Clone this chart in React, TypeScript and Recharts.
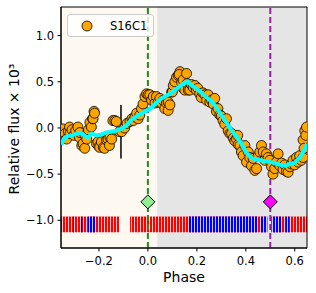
import React from 'react';
import {
  ComposedChart,
  Scatter,
  XAxis,
  YAxis,
  ReferenceArea,
  ReferenceLine,
} from 'recharts';

// observed points (phase, relative flux x 10^3)
const obsPhase = [
  -0.352, -0.347, -0.346, -0.338, -0.332, -0.325, -0.32, -0.318, -0.31, -0.302,
  -0.295, -0.286, -0.28, -0.278, -0.27, -0.265, -0.258, -0.257, -0.25, -0.243,
  -0.237, -0.231, -0.226, -0.224, -0.22, -0.218, -0.21, -0.204, -0.2, -0.197,
  -0.19, -0.182, -0.177, -0.169, -0.163, -0.157, -0.155, -0.148, -0.143, -0.135,
  -0.129, -0.116, -0.107, -0.095, -0.085, -0.073, -0.065, -0.06, -0.053, -0.046,
  -0.04, -0.033, -0.026, -0.02, -0.012, -0.005, 0.001, 0.008, 0.015, 0.022,
  0.029, 0.035, 0.042, 0.049, 0.055, 0.062, 0.069, 0.076, 0.083, 0.083,
  0.09, 0.097, 0.1, 0.104, 0.11, 0.117, 0.124, 0.131, 0.128, 0.138,
  0.144, 0.144, 0.151, 0.158, 0.16, 0.165, 0.171, 0.178, 0.185, 0.192,
  0.198, 0.204, 0.212, 0.218, 0.225, 0.233, 0.24, 0.246, 0.253, 0.26,
  0.267, 0.273, 0.28, 0.286, 0.294, 0.3, 0.307, 0.314, 0.321, 0.328,
  0.335, 0.342, 0.349, 0.355, 0.362, 0.367, 0.369, 0.376, 0.382, 0.389,
  0.396, 0.403, 0.41, 0.416, 0.423, 0.43, 0.437, 0.444, 0.451, 0.457,
  0.464, 0.471, 0.477, 0.484, 0.491, 0.498, 0.505, 0.511, 0.518, 0.525,
  0.532, 0.539, 0.546, 0.552, 0.559, 0.566, 0.573, 0.58, 0.586, 0.593,
  0.6, 0.607, 0.614, 0.62, 0.627, 0.634, 0.634, 0.638, 0.641, 0.645,
  0.648,
];
const obsFlux = [
  -0.03, -0.01, -0.1, -0.06, -0.12, -0.04, 0.01, -0.06, -0.02, -0.08,
  -0.03, 0.01, -0.1, -0.05, -0.19, -0.17, -0.22, -0.08, -0.12, -0.02,
  0.06, 0.01, 0.1, 0.1, 0.18, 0.16, -0.17, -0.15, -0.2, -0.21,
  -0.15, -0.21, -0.22, -0.13, -0.12, -0.19, -0.1, -0.12, 0.08, 0.08,
  0.07, -0.04, -0.04, 0.0, 0.05, 0.07, 0.1, 0.08, 0.12, 0.16,
  0.1, 0.14, 0.21, 0.26, 0.34, 0.37, 0.36, 0.36, 0.3, 0.34,
  0.27, 0.34, 0.28, 0.32, 0.27, 0.3, 0.21, 0.27, 0.19, 0.28,
  0.25, 0.39, 0.39, 0.46, 0.5, 0.55, 0.57, 0.61, 0.58, 0.49,
  0.43, 0.52, 0.41, 0.59, 0.48, 0.41, 0.41, 0.47, 0.44, 0.46,
  0.41, 0.43, 0.37, 0.33, 0.38, 0.36, 0.3, 0.36, 0.28, 0.3,
  0.26, 0.32, 0.18, 0.21, 0.14, 0.13, 0.08, 0.04, 0.1, -0.03,
  -0.06, -0.06, -0.11, -0.14, -0.12, -0.08, -0.18, -0.19, -0.26, -0.3,
  -0.19, -0.37, -0.26, -0.32, -0.41, -0.33, -0.46, -0.44, -0.3, -0.26,
  -0.19, -0.26, -0.35, -0.28, -0.32, -0.35, -0.42, -0.5, -0.44, -0.37,
  -0.28, -0.41, -0.38, -0.45, -0.4, -0.47, -0.48, -0.42, -0.39, -0.35,
  -0.4, -0.32, -0.37, -0.3, -0.35, -0.32, -0.13, -0.22, -0.03, -0.08,
  0.01,
];

// smoothed model curve
const fitPhase = [
  -0.355, -0.345, -0.33, -0.31, -0.29, -0.275, -0.26, -0.245, -0.23, -0.21,
  -0.19, -0.17, -0.15, -0.13, -0.11, -0.09, -0.07, -0.05, -0.03, -0.01,
  0.01, 0.03, 0.05, 0.07, 0.09, 0.11, 0.13, 0.15, 0.165, 0.18,
  0.2, 0.22, 0.24, 0.26, 0.28, 0.3, 0.32, 0.34, 0.36, 0.38,
  0.4, 0.42, 0.44, 0.46, 0.48, 0.5, 0.52, 0.54, 0.56, 0.58,
  0.6, 0.62, 0.635, 0.65,
];
const fitFlux = [
  -0.18, -0.13, -0.09, -0.08, -0.06, -0.05, -0.08, -0.11, -0.06, -0.08,
  -0.07, -0.05, -0.04, -0.03, -0.01, 0.02, 0.08, 0.12, 0.15, 0.18,
  0.21, 0.26, 0.31, 0.34, 0.37, 0.41, 0.45, 0.49, 0.5, 0.46,
  0.42, 0.38, 0.33, 0.29, 0.22, 0.14, 0.06, -0.02, -0.09, -0.16,
  -0.26, -0.32, -0.34, -0.35, -0.36, -0.37, -0.38, -0.4, -0.41, -0.39,
  -0.38, -0.32, -0.26, -0.17,
];

// sampling bands along the bottom
const redBands: [number, number][] = [
  [-0.355, -0.118],
  [-0.073, 0.489],
  [0.505, 0.65],
];
const blueBands: [number, number][] = [
  [-0.306, -0.3],
  [-0.274, -0.268],
  [-0.245, -0.216],
  [0.167, 0.449],
  [0.461, 0.486],
  [0.505, 0.546],
  [0.562, 0.578],
];

const markerPhase = [0.0, 0.5];
const markerFlux = [-0.8, -0.8];
const markerColor = ['#90ee90', '#ff00ff'];

const xTicks = [-0.2, 0.0, 0.2, 0.4, 0.6];
const yTicks = [-1.0, -0.5, 0.0, 0.5, 1.0];

const points = obsPhase.map((p, i) => ({ phase: p, flux: obsFlux[i] }));
const fit = fitPhase.map((p, i) => ({ phase: p, flux: fitFlux[i] }));
const markers = markerPhase.map((p, i) => ({ phase: p, flux: markerFlux[i], color: markerColor[i] }));

const FONT = 'DejaVu Sans, sans-serif';
const fmt = (v: number) => v.toFixed(1).replace('-', '\u2212');

const Dot = (props: any) => (
  <circle cx={props.cx} cy={props.cy} r={5} fill="#ffa500" stroke="#000" strokeWidth={0.8} />
);

const NoDot = () => <g />;

const Diamond = (props: any) => {
  const { cx, cy, payload } = props;
  const s = 7;
  return (
    <polygon
      points={`${cx},${cy - s} ${cx + s},${cy} ${cx},${cy + s} ${cx - s},${cy}`}
      fill={payload.color}
      stroke="#000"
      strokeWidth={1}
    />
  );
};

export default function App() {
  return (
    <div style={{ position: 'absolute', left: 0, top: 0, width: 316, height: 293, background: '#fff' }}>
      <ComposedChart width={316} height={293} margin={{ top: 7, right: 9, bottom: 0, left: 0 }}>
        <defs>
          <pattern id="redStripes" width="3" height="20" patternUnits="userSpaceOnUse">
            <rect width="3" height="20" fill="#ffc8c8" />
            <rect width="2" height="20" fill="#ff0000" />
          </pattern>
          <pattern id="blueStripes" width="3" height="20" patternUnits="userSpaceOnUse">
            <rect width="3" height="20" fill="#c8c8ff" />
            <rect width="2" height="20" fill="#0000ff" />
          </pattern>
        </defs>
        <XAxis
          dataKey="phase"
          type="number"
          domain={[-0.355, 0.65]}
          ticks={xTicks}
          tickFormatter={fmt}
          allowDataOverflow
          height={45}
          tickSize={3.5}
          tickMargin={5}
          stroke="#000"
          tick={{ fill: '#000', fontSize: 11.5, fontFamily: FONT }}
        />
        <YAxis
          dataKey="flux"
          type="number"
          domain={[-1.3, 1.31]}
          ticks={yTicks}
          tickFormatter={fmt}
          allowDataOverflow
          width={61}
          tickSize={3.5}
          tickMargin={3.5}
          stroke="#000"
          tick={{ fill: '#000', fontSize: 11.5, fontFamily: FONT }}
        />
        <ReferenceArea x1={-0.355} x2={0.038} y1={-1.3} y2={1.31} fill="#fdf9f0" fillOpacity={1} stroke="none" />
        <ReferenceArea x1={0.038} x2={0.65} y1={-1.3} y2={1.31} fill="#e5e5e5" fillOpacity={1} stroke="none" />
        {redBands.map(([a, b], i) => (
          <ReferenceArea key={`r${i}`} x1={a} x2={b} y1={-1.13} y2={-0.96} fill="url(#redStripes)" fillOpacity={1} stroke="none" />
        ))}
        {blueBands.map(([a, b], i) => (
          <ReferenceArea key={`b${i}`} x1={a} x2={b} y1={-1.13} y2={-0.96} fill="url(#blueStripes)" fillOpacity={1} stroke="none" />
        ))}
        <ReferenceLine
          segment={[{ x: -0.11, y: 0.25 }, { x: -0.11, y: -0.33 }]}
          stroke="#000"
          strokeWidth={1.5}
        />
        <Scatter data={points} dataKey="flux" shape={<Dot />} isAnimationActive={false} />
        <Scatter
          data={fit}
          dataKey="flux"
          shape={<NoDot />}
          line={{ stroke: '#00ffff', strokeWidth: 4, strokeLinejoin: 'round' }}
          lineType="joint"
          isAnimationActive={false}
        />
        <ReferenceLine x={0} stroke="#228b22" strokeWidth={2} strokeDasharray="6 3" />
        <ReferenceLine x={0.5} stroke="#9b1fa0" strokeWidth={2} strokeDasharray="6 3" />
        <Scatter data={markers} dataKey="flux" shape={<Diamond />} isAnimationActive={false} />
        <ReferenceArea x1={-0.355} x2={0.65} y1={-1.3} y2={1.31} fill="none" stroke="#000" strokeWidth={1} />
        <text x={184} y={282} textAnchor="middle" fontSize={14} fontFamily={FONT} fill="#000">
          Phase
        </text>
        <text
          x={19}
          y={129}
          transform="rotate(-90 19 129)"
          textAnchor="middle"
          fontSize={14}
          fontFamily={FONT}
          fill="#000"
        >
          Relative flux × 10³
        </text>
      </ComposedChart>
      <div
        style={{
          position: 'absolute',
          left: 67,
          top: 14,
          width: 87,
          height: 23,
          background: 'rgba(255,255,255,0.8)',
          border: '1px solid #cccccc',
          borderRadius: 3,
          boxSizing: 'border-box',
          fontFamily: FONT,
          fontSize: 11.5,
          display: 'flex',
          alignItems: 'center',
        }}
      >
        <svg width={40} height={20} style={{ display: 'block' }}>
          <circle cx={19} cy={10} r={5} fill="#ffa500" stroke="#000" strokeWidth={0.8} />
        </svg>
        <span style={{ marginLeft: 2 }}>S16C1</span>
      </div>
    </div>
  );
}
